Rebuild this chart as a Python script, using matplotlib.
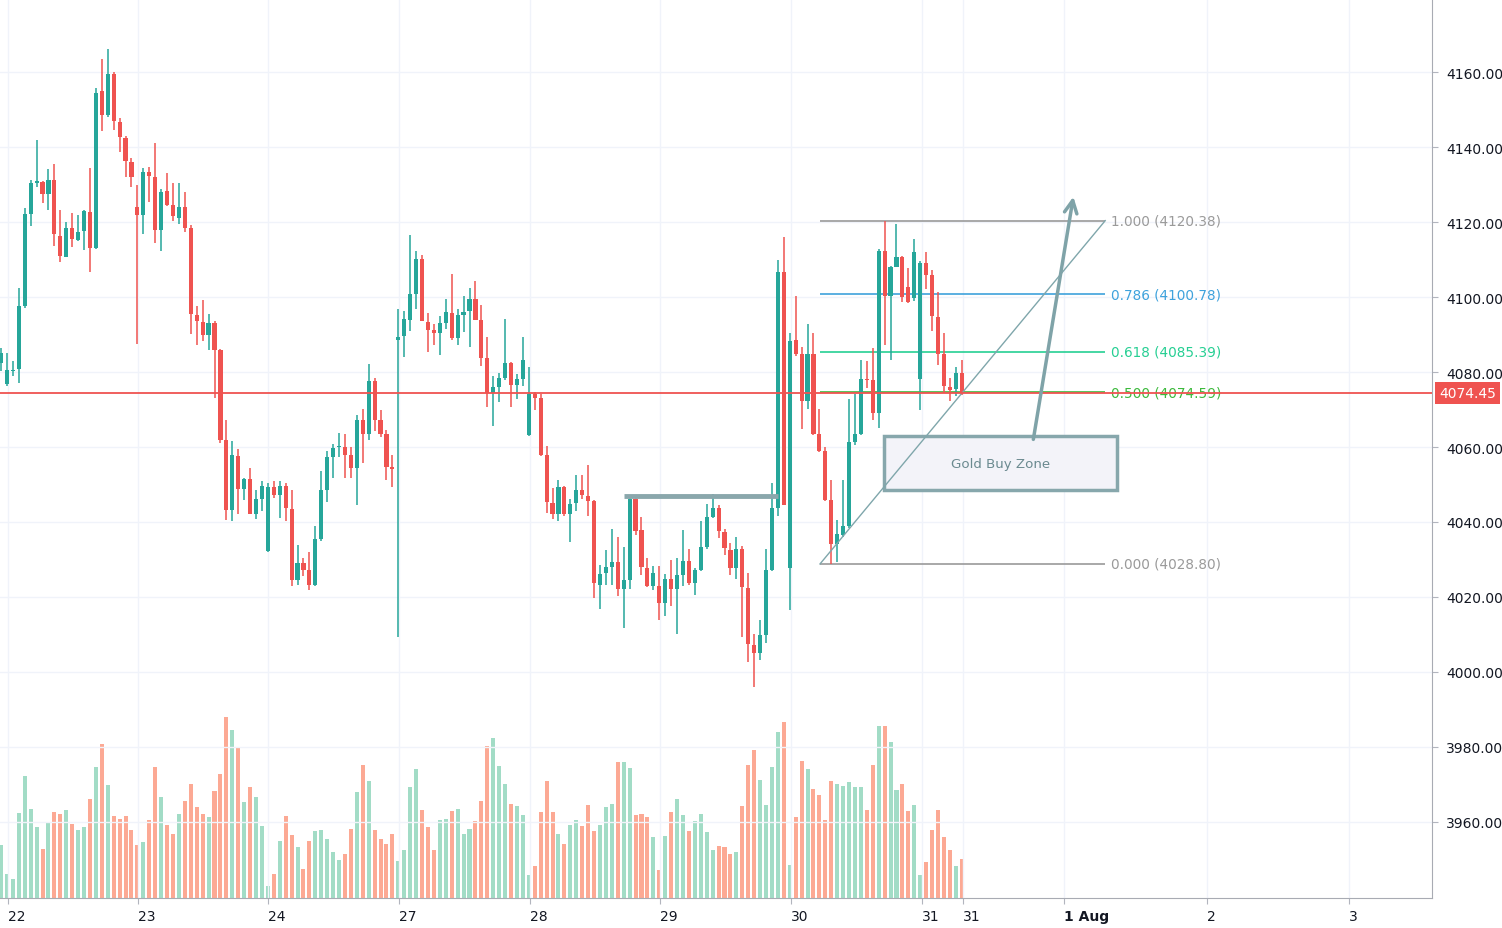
import numpy as np
import matplotlib
matplotlib.use('Agg')
from matplotlib import pyplot as plt
from matplotlib.patches import Rectangle

'''
Gold hourly candles (22 -> 31 Jul), volume and a fib retracement sketch
'''
opens = [4082.5, 4076.8, 4080.3, 4080.7, 4097.6, 4122.2, 4130.5, 4130.8, 4127.4, 4131.1,
         4116.4, 4110.8, 4118.5, 4115.2, 4117.6, 4122.8, 4113.2, 4154.9, 4148.5, 4159.6,
         4146.8, 4142.5, 4136.1, 4124.1, 4121.9, 4133.4, 4132.1, 4117.9, 4128.2, 4124.6,
         4121.2, 4124.0, 4118.4, 4095.3, 4093.3, 4089.8, 4093.1, 4085.8, 4061.8, 4043.3,
         4057.7, 4048.8, 4051.5, 4042.0, 4046.2, 4032.2, 4049.3, 4047.1, 4049.7, 4043.5,
         4024.4, 4029.1, 4027.1, 4023.3, 4035.5, 4048.5, 4057.4, 4059.9, 4060.1, 4057.8,
         4054.3, 4067.2, 4063.6, 4077.6, 4067.2, 4063.6, 4054.7, 4088.5, 4089.6, 4094.0,
         4100.9, 4110.2, 4093.4, 4091.2, 4090.5, 4093.2, 4095.8, 4089.0, 4095.2, 4096.3,
         4099.6, 4093.9, 4083.7, 4074.4, 4076.0, 4078.4, 4082.4, 4076.6, 4078.1, 4063.1,
         4074.2, 4073.1, 4057.8, 4045.1, 4042.0, 4049.3, 4042.2, 4045.1, 4048.4, 4047.0,
         4045.5, 4023.3, 4026.4, 4028.0, 4029.3, 4022.0, 4024.4, 4046.1, 4037.8, 4027.8,
         4022.9, 4022.9, 4018.3, 4024.9, 4022.0, 4025.8, 4029.6, 4023.6, 4027.2, 4033.2,
         4041.2, 4043.8, 4037.4, 4032.4, 4027.6, 4032.9, 4022.5, 4007.2, 4005.0, 4009.9,
         4027.2, 4043.8, 4106.8, 4027.6, 4088.5, 4084.7, 4072.3, 4084.9, 4063.4, 4058.8,
         4045.9, 4034.0, 4036.5, 4038.8, 4061.4, 4063.4, 4078.2, 4077.8, 4069.0, 4112.3,
         4100.3, 4108.1, 4110.8, 4102.8, 4099.8, 4078.2, 4109.2, 4105.8, 4094.8, 4084.7,
         4076.1, 4075.4, 4079.8]
highs = [4086.5, 4085.0, 4083.0, 4102.5, 4123.8, 4131.1, 4141.8, 4131.0, 4134.2, 4135.4,
         4123.1, 4120.1, 4122.5, 4121.9, 4123.1, 4134.5, 4155.8, 4163.6, 4166.2, 4160.0,
         4147.8, 4142.9, 4137.2, 4129.8, 4134.5, 4134.8, 4141.2, 4128.9, 4133.1, 4130.4,
         4130.4, 4128.0, 4119.3, 4097.7, 4099.3, 4095.5, 4093.7, 4086.1, 4067.3, 4061.7,
         4059.5, 4051.7, 4054.4, 4048.4, 4051.0, 4050.4, 4050.8, 4050.8, 4050.4, 4048.4,
         4033.8, 4030.4, 4032.0, 4038.8, 4053.7, 4058.8, 4060.9, 4063.8, 4063.6, 4060.1,
         4068.5, 4070.2, 4082.2, 4078.3, 4069.8, 4064.5, 4057.9, 4096.9, 4096.4, 4116.5,
         4112.4, 4111.1, 4095.8, 4092.9, 4094.9, 4099.6, 4106.2, 4096.9, 4100.4, 4102.5,
         4104.3, 4097.8, 4089.3, 4079.0, 4079.7, 4094.1, 4082.6, 4079.5, 4089.3, 4081.3,
         4074.8, 4074.2, 4060.2, 4049.1, 4051.1, 4049.5, 4046.2, 4052.4, 4052.4, 4055.1,
         4045.8, 4028.4, 4032.4, 4038.1, 4036.0, 4033.3, 4046.8, 4046.4, 4041.3, 4030.5,
         4028.3, 4028.3, 4026.2, 4029.9, 4030.5, 4037.9, 4032.9, 4027.6, 4040.3, 4044.9,
         4047.4, 4044.5, 4038.2, 4034.5, 4036.1, 4033.6, 4026.5, 4010.2, 4013.9, 4032.9,
         4050.5, 4109.9, 4116.1, 4090.5, 4100.4, 4086.8, 4092.7, 4090.5, 4070.2, 4060.1,
         4051.2, 4040.5, 4051.2, 4072.9, 4074.2, 4083.1, 4082.9, 4086.5, 4112.9, 4120.3,
         4108.3, 4119.6, 4111.0, 4107.8, 4115.6, 4109.5, 4112.0, 4107.2, 4101.3, 4090.5,
         4078.5, 4081.3, 4083.2]
lows = [4080.3, 4076.3, 4079.0, 4077.0, 4097.0, 4118.9, 4129.3, 4125.0, 4123.2, 4113.6,
        4109.4, 4110.7, 4113.3, 4114.9, 4112.5, 4106.7, 4112.9, 4144.3, 4148.0, 4144.5,
        4138.7, 4132.0, 4129.3, 4087.6, 4116.7, 4125.3, 4114.3, 4112.3, 4124.2, 4120.2,
        4119.5, 4117.3, 4090.2, 4087.1, 4088.4, 4085.8, 4073.2, 4061.2, 4040.4, 4040.2,
        4042.2, 4045.8, 4042.0, 4040.9, 4042.8, 4032.0, 4046.4, 4041.1, 4040.2, 4022.8,
        4023.1, 4025.5, 4021.8, 4022.8, 4034.8, 4045.2, 4051.6, 4057.2, 4051.6, 4051.8,
        4044.5, 4055.8, 4061.8, 4064.3, 4062.8, 4051.2, 4049.3, 4009.3, 4084.0, 4090.9,
        4096.9, 4093.6, 4085.3, 4087.2, 4084.5, 4091.4, 4088.5, 4087.2, 4090.7, 4086.7,
        4093.9, 4081.6, 4070.6, 4065.7, 4071.9, 4077.8, 4070.8, 4072.8, 4076.2, 4063.0,
        4069.8, 4057.5, 4042.4, 4040.9, 4040.2, 4041.5, 4034.6, 4042.8, 4046.1, 4041.5,
        4019.6, 4016.9, 4023.3, 4023.1, 4020.2, 4011.6, 4022.2, 4036.4, 4025.8, 4022.7,
        4021.8, 4013.9, 4014.9, 4017.6, 4010.2, 4022.9, 4023.2, 4020.5, 4026.8, 4032.7,
        4041.0, 4035.6, 4031.2, 4025.9, 4024.9, 4009.3, 4002.7, 3996.0, 4003.2, 4007.6,
        4027.0, 4041.6, 4044.5, 4016.5, 4084.4, 4064.9, 4070.2, 4063.1, 4058.7, 4045.6,
        4028.7, 4029.2, 4036.1, 4038.3, 4060.5, 4063.2, 4075.8, 4067.2, 4065.2, 4087.2,
        4083.2, 4108.0, 4098.7, 4098.5, 4098.9, 4070.0, 4102.2, 4090.9, 4082.0, 4074.5,
        4072.4, 4073.6, 4074.0]
closes = [4085.0, 4080.5, 4080.6, 4097.6, 4122.2, 4130.5, 4130.8, 4127.4, 4131.1, 4116.7,
          4110.9, 4118.5, 4115.4, 4117.4, 4122.9, 4113.0, 4154.5, 4148.5, 4159.6, 4146.9,
          4142.7, 4136.3, 4132.0, 4121.9, 4133.4, 4132.3, 4117.9, 4128.1, 4124.6, 4121.5,
          4124.0, 4118.4, 4095.6, 4093.5, 4089.8, 4093.1, 4085.8, 4061.8, 4043.3, 4057.8,
          4048.8, 4051.5, 4042.0, 4046.1, 4049.7, 4049.3, 4047.1, 4049.7, 4043.6, 4024.4,
          4029.1, 4027.1, 4023.3, 4035.5, 4048.5, 4057.4, 4059.8, 4060.2, 4057.9, 4054.5,
          4067.2, 4063.6, 4077.6, 4067.2, 4063.6, 4054.7, 4054.0, 4089.4, 4094.2, 4100.9,
          4110.2, 4093.6, 4091.2, 4090.5, 4093.2, 4096.1, 4089.0, 4095.1, 4096.1, 4099.6,
          4093.9, 4083.8, 4074.4, 4076.0, 4078.4, 4082.4, 4076.6, 4078.1, 4083.3, 4074.2,
          4073.2, 4057.8, 4045.2, 4042.2, 4049.3, 4042.2, 4044.9, 4048.4, 4047.1, 4045.5,
          4023.6, 4026.2, 4028.0, 4029.3, 4022.2, 4024.4, 4046.1, 4037.5, 4027.9, 4022.9,
          4026.5, 4018.3, 4024.9, 4022.0, 4025.8, 4029.6, 4023.6, 4027.2, 4033.2, 4041.2,
          4043.8, 4037.6, 4033.0, 4027.6, 4032.9, 4022.7, 4007.4, 4005.0, 4009.8, 4027.2,
          4043.8, 4106.8, 4044.5, 4088.3, 4084.7, 4072.3, 4084.9, 4063.6, 4058.9, 4045.9,
          4034.0, 4036.7, 4038.8, 4061.4, 4063.4, 4078.2, 4077.8, 4069.0, 4112.3, 4100.3,
          4108.1, 4110.8, 4100.1, 4098.8, 4112.1, 4109.2, 4106.0, 4094.9, 4084.7, 4076.3,
          4075.2, 4079.8, 4074.45]
volumes = [160, 73, 58, 256, 366, 268, 212, 148, 227, 257, 253, 265, 223, 205, 212, 298, 392,
           463, 340, 246, 238, 246, 205, 160, 167, 235, 392, 302, 220, 193, 253, 291, 343,
           272, 253, 242, 321, 373, 543, 505, 452, 287, 332, 302, 216, 36, 71, 171, 246, 190,
           152, 88, 171, 201, 205, 178, 137, 115, 133, 208, 317, 400, 351, 205, 178, 163,
           193, 111, 145, 332, 388, 265, 212, 145, 235, 238, 261, 268, 193, 208, 231, 291,
           456, 481, 396, 343, 283, 276, 250, 70, 96, 257, 351, 257, 193, 163, 220, 235, 216,
           280, 201, 220, 272, 283, 408, 408, 391, 250, 253, 242, 183, 85, 186, 257, 298,
           250, 201, 231, 253, 197, 145, 156, 152, 133, 137, 276, 400, 445, 355, 280, 392,
           497, 527, 100, 242, 411, 388, 328, 310, 235, 351, 343, 336, 347, 332, 332, 265,
           400, 516, 516, 467, 325, 343, 261, 280, 70, 107, 205, 265, 182, 145, 96, 118]

# x axis: bar index of each day line, and its label
day_ticks = [1.1, 23.15, 45.1, 67.1, 89.2, 111.1, 133.2, 155.3, 162.2, 179.3, 203.4, 227.3]
day_labels = ['22', '23', '24', '27', '28', '29', '30', '31', '31', '1 Aug', '2', '3']
price_ticks = np.arange(3960, 4161, 20)

last_price = 4074.45
fib_ratios = [1.0, 0.786, 0.618, 0.5, 0.0]
fib_levels = [4120.38, 4100.78, 4085.39, 4074.59, 4028.80]
fib_colors = ['#9a9a9a', '#3ea2dc', '#26cf93', '#3dba3d', '#9a9a9a']
fib_start, fib_end = 138.1, 186.2
resist_price, resist_x0, resist_x1 = 4046.9, 105.1, 131.0
zone_x0, zone_x1, zone_lo, zone_hi = 148.9, 188.2, 4048.5, 4062.9
arrow_from, arrow_to = (174.0, 4061.3), (180.9, 4127.5)

GREEN, RED = '#26a69a', '#ef5350'

o = np.array(opens); h = np.array(highs); l = np.array(lows); c = np.array(closes)
idx = np.arange(len(o))
up = c >= o
cols = np.where(up, GREEN, RED)
vcols = np.where(up, '#a2dcc6', '#fca994')

fig = plt.figure(figsize=(15.02, 9.29), dpi=100)
rect = [0, 30 / 929, 1432 / 1502, 899 / 929]
xlim = (-0.17, 241.3)

ax_vol = fig.add_axes(rect)
ax_vol.bar(idx, volumes, width=0.68, color=vcols, zorder=1)
ax_vol.set_xlim(*xlim)
ax_vol.set_ylim(0, 2697)
ax_vol.axis('off')

ax = fig.add_axes(rect)
ax.set_facecolor('none')
ax.set_xlim(*xlim)
ax.set_ylim(3939.7, 4179.5)

# candles
ax.vlines(idx, l, h, colors=cols, lw=1.1, zorder=3)
body = np.maximum(np.abs(c - o), 0.35)
ax.bar(idx, body, bottom=np.minimum(o, c), width=0.7, color=cols, zorder=4)

# fib retracement
for r, lvl, col in zip(fib_ratios, fib_levels, fib_colors):
    ax.hlines(lvl, fib_start, fib_end, color=col, lw=1.2, zorder=2)
    ax.text(fib_end + 1.0, lvl, f'{r:.3f} ({lvl:.2f})', color=col, fontsize=9.8,
            va='center', ha='left', zorder=6)
ax.plot([fib_start, fib_end], [fib_levels[-1], fib_levels[0]], color='#7fa6ab', lw=1, zorder=6)

# current price
ax.axhline(last_price, color=RED, lw=1.3, zorder=7)
ax.annotate(f'{last_price:.2f}', xy=(1.0, last_price), xycoords=('axes fraction', 'data'),
            xytext=(5, 0), textcoords='offset points', ha='left', va='center',
            color='white', fontsize=10, annotation_clip=False,
            bbox=dict(boxstyle='square,pad=0.3', fc=RED, ec='none'))

# resistance line over 29th
ax.hlines(resist_price, resist_x0, resist_x1, color='#8aa7ac', lw=3.5, zorder=5)

# buy zone box + arrow
ax.add_patch(Rectangle((zone_x0, zone_lo), zone_x1 - zone_x0, zone_hi - zone_lo,
                       fc='#f3f3f9', ec='#87a7ac', lw=2.5, zorder=2))
ax.text((zone_x0 + zone_x1) / 2, (zone_lo + zone_hi) / 2, 'Gold Buy Zone',
        color='#6b8a90', fontsize=9.6, ha='center', va='center', zorder=3)
ax.annotate('', xy=arrow_to, xytext=arrow_from,
            arrowprops=dict(arrowstyle='->,head_length=0.9,head_width=0.45',
                            color='#7fa3a8', lw=2.5), zorder=7)

# axes cosmetics
ax.yaxis.tick_right()
ax.set_yticks(price_ticks)
ax.set_yticklabels([f'{v:.2f}' for v in price_ticks])
ax.set_xticks(day_ticks)
ax.set_xticklabels(day_labels, ha='left')
ax.get_xticklabels()[9].set_fontweight('bold')
ax.tick_params(axis='y', length=4, pad=6, colors='#b2b5be', labelcolor='#131722', labelsize=10)
ax.tick_params(axis='x', length=4, pad=4, colors='#b2b5be', labelcolor='#131722', labelsize=10)
ax.grid(True, color='#f0f3fa', lw=1, zorder=0)
ax.set_axisbelow(True)
for side in ['top', 'left']:
    ax.spines[side].set_visible(False)
for side in ['right', 'bottom']:
    ax.spines[side].set_color('#a8abb3')

fig.savefig('out.png', dpi=100)
